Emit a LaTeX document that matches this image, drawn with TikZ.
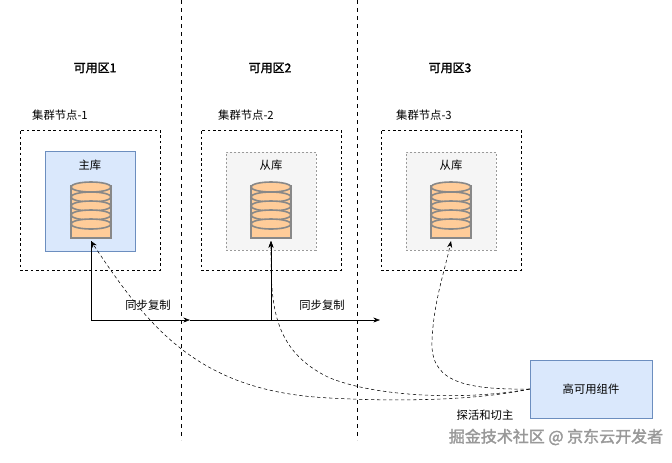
\documentclass[tikz,border=0pt]{standalone}
\usepackage{fontspec}
\setmainfont{Noto Sans CJK SC}[AutoFakeBold=2]
\usetikzlibrary{arrows.meta}
\definecolor{bluef}{HTML}{DAE8FC}\definecolor{blued}{HTML}{6C8EBF}
\definecolor{grayf}{HTML}{F5F5F5}\definecolor{grayd}{HTML}{9A9A9A}
\definecolor{dbf}{HTML}{FFCC99}\definecolor{dbd}{HTML}{888888}
\begin{document}
\begin{tikzpicture}[x=0.75pt,y=-0.75pt,font=\fontsize{8.5}{10}\selectfont,
  zone/.style={draw,dashed,thin},
  title/.style={font=\fontsize{9}{10}\selectfont\bfseries},
  cl/.style={draw,dash pattern=on 2pt off 2pt,minimum width=105pt,minimum height=105pt,inner sep=0},
  mainb/.style={draw=blued,fill=bluef,minimum width=67.5pt,minimum height=75pt,inner sep=0},
  slaveb/.style={draw=grayd,fill=grayf,dash pattern=on 1.5pt off 1.5pt,minimum width=67.5pt,minimum height=73.5pt,inner sep=0},
  sync/.style={-{Stealth[length=5pt]},thin},
  probe/.style={-{Stealth[length=5pt]},thin,dash pattern=on 2.5pt off 2pt}]
\useasboundingbox (0,0) rectangle (672,462);
\draw[zone] (181,0) -- (181,440);
\draw[zone] (357,0) -- (357,440);
\node[title] (z1) at (95,68) {可用区1};
\node[title] (z2) at (270,68) {可用区2};
\node[title] (z3) at (450,68) {可用区3};
\node (c1l) at (60,115) {集群节点-1};
\node (c2l) at (246,115) {集群节点-2};
\node (c3l) at (424,115) {集群节点-3};
\node[cl] (c1) at (90,200) {};
\node[cl] (c2) at (271,200) {};
\node[cl] (c3) at (451,200) {};
\node[mainb] (m) at (90,201) {};
\node[slaveb] (s2) at (271,201) {};
\node[slaveb] (s3) at (451,201) {};
\node (mt) at (90,165) {主库};
\node (s2t) at (271,165) {从库};
\node (s3t) at (451,165) {从库};
\foreach \cx/\n in {91/d1,271/d2,451/d3}{
  \begin{scope}[shift={(\cx,0)}]
    \fill[dbf,draw=dbd,line width=1.2pt] (-20,186) rectangle (20,238);
    \foreach \yy in {187,197,206,215,224}{
      \draw[dbd,fill=dbf,line width=1.2pt] (0,\yy) ellipse [x radius=20, y radius=5];}
  \end{scope}
  \coordinate (\n) at (\cx,241);
}
\coordinate (j1) at (91,320);
\coordinate (j2) at (271,320);
\coordinate (e3) at (380,320);
\draw[thin] (d1) -- (j1);
\draw[sync] (j1) -- (190,320);
\draw[thin] (190,320) -- (j2);
\draw[sync] (j2) -- (d2);
\draw[sync] (j2) -- (e3);
\node (l1) at (148,305) {同步复制};
\node (l2) at (322,305) {同步复制};
\node[draw=blued,fill=bluef,minimum width=91.5pt,minimum height=43.5pt,inner sep=0] (ha) at (591,389) {高可用组件};
\node (pt) at (485,415) {探活和切主};
\draw[probe] (ha.west) .. controls (480,400) and (400,402) .. (330,398) .. controls (200,392) and (150,330) .. (d1);
\draw[probe] (ha.west) .. controls (470,400) and (380,398) .. (330,378) .. controls (270,350) and (271,300) .. (d2);
\draw[probe] (ha.west) .. controls (460,390) and (430,380) .. (432,340) .. controls (434,300) and (445,270) .. (d3);
\node[text=gray!80,font=\fontsize{12}{14}\selectfont\bfseries] (wm) at (556,437) {掘金技术社区 @ 京东云开发者};
\end{tikzpicture}
\end{document}
